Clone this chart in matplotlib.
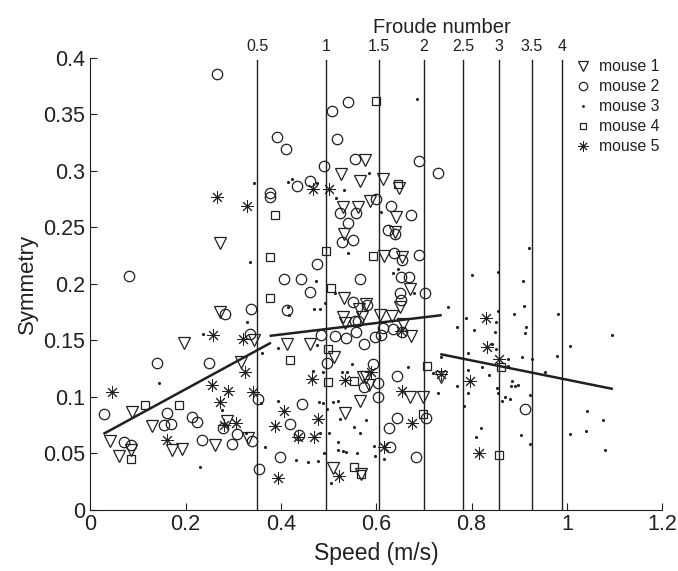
import matplotlib.pyplot as plt
from matplotlib.ticker import FormatStrFormatter
import numpy as np

plt.rcParams['font.family'] = ['Liberation Sans', 'DejaVu Sans']

# speed (m/s) and symmetry per animal
m1_x = [0.272, 0.273, 0.344, 0.197, 0.3166, 0.087, 0.2866, 0.130, 0.332, 0.0424, 0.262, 0.061, 0.085, 0.171, 0.192,
        0.576, 0.527, 0.567, 0.6135, 0.647, 0.588, 0.531, 0.561, 0.641, 0.640, 0.5335, 0.617, 0.654,
        0.670, 0.533, 0.578, 0.5635, 0.650, 0.530, 0.607, 0.633, 0.571, 0.5356, 0.657, 0.6727, 0.4124, 0.461,
        0.511, 0.572, 0.579, 0.584, 0.6706, 0.6985, 0.737, 0.565, 0.5356, 0.509, 0.5677]
m1_y = [0.236, 0.1746, 0.150, 0.1477, 0.1306, 0.0866, 0.0787, 0.0743, 0.0636, 0.0607, 0.0572, 0.0474, 0.0527, 0.0527, 0.0536,
        0.3096, 0.297, 0.291, 0.2923, 0.285, 0.2734, 0.268, 0.268, 0.2586, 0.246, 0.2439, 0.2247, 0.2238,
        0.1952, 0.1875, 0.182, 0.178, 0.1796, 0.1707, 0.172, 0.1713, 0.1707, 0.165, 0.164, 0.1536, 0.1463, 0.147,
        0.1353, 0.117, 0.117, 0.1105, 0.0994, 0.0999, 0.117, 0.0964, 0.0852, 0.0368, 0.0315]

m2_x = [0.2665, 0.392, 0.378, 0.378, 0.0814, 0.283, 0.3375, 0.336, 0.141, 0.249, 0.353, 0.028, 0.162, 0.214, 0.2247,
        0.155, 0.169, 0.278, 0.3075, 0.3388, 0.070, 0.085, 0.2345, 0.297, 0.355, 0.399,
        0.411, 0.4347, 0.461, 0.490, 0.5065, 0.541, 0.518, 0.555, 0.689, 0.730, 0.599, 0.5245, 0.558, 0.541,
        0.6316, 0.6727, 0.6247, 0.640, 0.5286, 0.551, 0.638, 0.689, 0.654, 0.476, 0.4076, 0.443, 0.565,
        0.652, 0.668, 0.462, 0.7025, 0.649, 0.4126, 0.551, 0.580, 0.652, 0.555, 0.561, 0.615, 0.635, 0.6547,
        0.558, 0.4846, 0.5134, 0.537, 0.597, 0.611, 0.5745, 0.4975, 0.5935, 0.5745, 0.603, 0.603, 0.644,
        0.445, 0.704, 0.643, 0.419, 0.626, 0.438, 0.6296, 0.684, 0.9126]
m2_y = [0.3855, 0.330, 0.280, 0.277, 0.2065, 0.173, 0.178, 0.1554, 0.130, 0.130, 0.098, 0.0843, 0.0858, 0.0817, 0.0778,
        0.0752, 0.0758, 0.0725, 0.0666, 0.0607, 0.0596, 0.0569, 0.0616, 0.058, 0.036, 0.047,
        0.319, 0.2864, 0.2908, 0.304, 0.3528, 0.3604, 0.328, 0.310, 0.3087, 0.298, 0.275, 0.2625, 0.2625, 0.254,
        0.269, 0.2604, 0.2471, 0.244, 0.237, 0.2383, 0.2268, 0.2253, 0.221, 0.2171, 0.204, 0.204, 0.204,
        0.2056, 0.2056, 0.1929, 0.192, 0.192, 0.1764, 0.184, 0.181, 0.1855, 0.1669, 0.1669, 0.161, 0.1596, 0.1575,
        0.1575, 0.1548, 0.154, 0.1516, 0.153, 0.1548, 0.1463, 0.130, 0.129, 0.1088, 0.1118, 0.0999, 0.1185,
        0.0932, 0.0813, 0.0808, 0.0755, 0.0725, 0.066, 0.0557, 0.0468, 0.089]

m3_x = [0.344, 0.335, 0.328, 0.2365, 0.1446, 0.276, 0.327, 0.230, 0.361, 0.395, 0.3575, 0.3667,
        0.416, 0.424, 0.475, 0.516, 0.5335, 0.5856, 0.685, 0.611, 0.540,
        0.474, 0.636, 0.6455, 0.5145, 0.6795, 0.415, 0.4926, 0.4174, 0.470, 0.483, 0.476, 0.5495, 0.72, 0.7305,
        0.7513, 0.7686, 0.7686, 0.3945, 0.481, 0.489, 0.509, 0.520, 0.4828, 0.502, 0.506,
        0.4675, 0.488, 0.529, 0.538, 0.6657, 0.497, 0.525, 0.5537, 0.5656, 0.578, 0.5197, 0.4905, 0.519, 0.531,
        0.5357, 0.5607, 0.595, 0.598, 0.616, 0.4577, 0.477, 0.4327,
        0.920, 0.802, 0.8557, 0.908, 0.7874, 0.805, 0.851, 0.856, 0.890, 0.9106, 0.914, 0.9126, 0.981, 0.850,
        0.843, 0.793, 0.851, 0.8765, 0.905, 0.9266, 0.979, 1.0066, 1.094, 0.737, 0.7916, 0.821, 0.837, 0.7916,
        0.785, 0.8535, 0.8557, 0.864, 0.871, 0.881, 0.8835, 0.8918, 0.898, 0.885, 0.877, 0.9217, 0.955, 0.904,
        0.923, 1.0074, 1.040, 1.0414, 1.0755, 1.080, 0.819, 0.809]
m3_y = [0.289, 0.2194, 0.1657, 0.1554, 0.1118, 0.088, 0.068, 0.038, 0.139, 0.1427, 0.094, 0.0557,
        0.290, 0.293, 0.2893, 0.276, 0.2829, 0.2976, 0.363, 0.2635, 0.2268,
        0.2023, 0.209, 0.213, 0.1914, 0.1914, 0.1796, 0.1826, 0.172, 0.1775, 0.178, 0.1457, 0.1286, 0.1212, 0.103,
        0.179, 0.1613, 0.1094, 0.0964, 0.0955, 0.094, 0.0955, 0.0964, 0.0675, 0.0675, 0.0238,
        0.123, 0.1215, 0.122, 0.122, 0.126, 0.0888, 0.0802, 0.0728, 0.0675, 0.0793, 0.060, 0.0504, 0.0527, 0.0516,
        0.0507, 0.0504, 0.0566, 0.0477, 0.0448, 0.042, 0.0427, 0.0442,
        0.2312, 0.2076, 0.2103, 0.2023, 0.1693, 0.159, 0.1663, 0.1755, 0.1734, 0.180, 0.1616, 0.156, 0.173, 0.157,
        0.147, 0.139, 0.1418, 0.133, 0.1348, 0.133, 0.136, 0.145, 0.1545, 0.135, 0.124, 0.1265, 0.119, 0.103,
        0.0917, 0.1073, 0.103, 0.0964, 0.0999, 0.0979, 0.1094, 0.1094, 0.1105, 0.1138, 0.127, 0.1017, 0.1215, 0.066,
        0.058, 0.0669, 0.0698, 0.087, 0.0793, 0.0525, 0.0725, 0.0645]

m4_x = [0.388, 0.378, 0.378, 0.116, 0.186, 0.085, 0.600, 0.646, 0.494, 0.5935, 0.505, 0.4995, 0.4195,
        0.707, 0.498, 0.553, 0.699, 0.5537, 0.5677, 0.861, 0.8577]
m4_y = [0.2607, 0.2236, 0.187, 0.0926, 0.0926, 0.045, 0.3613, 0.288, 0.2289, 0.2247, 0.1958, 0.1421, 0.1324,
        0.1268, 0.1127, 0.1138, 0.0846, 0.0374, 0.0315, 0.126, 0.0486]

m5_x = [0.2665, 0.328, 0.258, 0.321, 0.325, 0.256, 0.0466, 0.290, 0.341, 0.272, 0.306, 0.281, 0.1607,
        0.468, 0.502, 0.652, 0.4645, 0.534, 0.589, 0.654, 0.7353, 0.407, 0.4786, 0.388, 0.6748, 0.435,
        0.469, 0.617, 0.522, 0.395, 0.831, 0.833, 0.8577, 0.797, 0.816]
m5_y = [0.2764, 0.2687, 0.1545, 0.1507, 0.1215, 0.1105, 0.1044, 0.1052, 0.104, 0.095, 0.0764, 0.0749, 0.0613,
        0.2835, 0.2835, 0.158, 0.1153, 0.1147, 0.1215, 0.105, 0.1197, 0.087, 0.0805, 0.0743, 0.0764, 0.0645,
        0.0645, 0.0557, 0.0297, 0.0282, 0.1693, 0.1436, 0.1335, 0.1135, 0.0498]

# linear fits for the three speed ranges
fit_x = [[0.030, 0.377], [0.379, 0.735], [0.737, 1.094]]
fit_y = [[0.0675, 0.1472], [0.1539, 0.172], [0.1374, 0.107]]

froude = [0.5, 1, 1.5, 2, 2.5, 3, 3.5, 4]
hip_height = 0.025  # m
g = 9.81

col = '#231f20'
fig = plt.figure(figsize=(6.78, 5.71), dpi=100)
ax = fig.add_axes([0.133, 0.1075, 0.8437, 0.7915])

# froude number lines, v = sqrt(Fr * g * L)
fr_speed = np.sqrt(np.array(froude) * g * hip_height)
for v in fr_speed:
    ax.axvline(v, ymin=0, ymax=0.995, color=col, lw=1.0, zorder=1)

ast = (8, 2, 0)
ax.plot(m1_x, m1_y, 'v', mfc='none', mec=col, ms=8.5, mew=0.9, ls='none', label='mouse 1')
ax.plot(m2_x, m2_y, 'o', mfc='none', mec=col, ms=7.5, mew=0.9, ls='none', label='mouse 2')
ax.plot(m3_x, m3_y, '.', color=col, ms=2.5, ls='none', label='mouse 3')
ax.plot(m4_x, m4_y, 's', mfc='none', mec=col, ms=6, mew=0.9, ls='none', label='mouse 4')
ax.plot(m5_x, m5_y, marker=ast, color=col, ms=9, mew=0.7, ls='none', label='mouse 5')

for fx, fy in zip(fit_x, fit_y):
    ax.plot(fx, fy, '-', color=col, lw=1.8, zorder=3)

ax.set_xlim(0, 1.2)
ax.set_ylim(0, 0.4)
ax.set_xticks(np.arange(0, 1.21, 0.2))
ax.set_yticks(np.arange(0, 0.401, 0.05))
ax.xaxis.set_major_formatter(FormatStrFormatter('%g'))
ax.yaxis.set_major_formatter(FormatStrFormatter('%g'))
ax.tick_params(direction='in', length=5, labelsize=15.5, colors=col, width=0.8)
ax.spines['top'].set_visible(False)
ax.spines['right'].set_visible(False)
ax.spines['left'].set_color(col)
ax.spines['bottom'].set_color(col)
ax.set_xlabel('Speed (m/s)', fontsize=16.5, color=col, labelpad=5)
ax.set_ylabel('Symmetry', fontsize=16, color=col, labelpad=4)

top = ax.twiny()
top.set_xlim(ax.get_xlim())
top.set_xticks(fr_speed)
top.set_xticklabels(['%g' % f for f in froude])
top.tick_params(length=0, labelsize=11.5, colors=col, pad=3)
for s in top.spines.values():
    s.set_visible(False)
top.set_xlabel('Froude number', fontsize=14.5, color=col, labelpad=4)
top.xaxis.label.set_x(0.615)

leg = ax.legend(loc='upper right', bbox_to_anchor=(1.02, 1.028), frameon=False, fontsize=11.3,
                handletextpad=0.5, labelspacing=0.32, handlelength=1.0, markerscale=0.8)
for t in leg.get_texts():
    t.set_color(col)

plt.savefig('out.png', dpi=100)
